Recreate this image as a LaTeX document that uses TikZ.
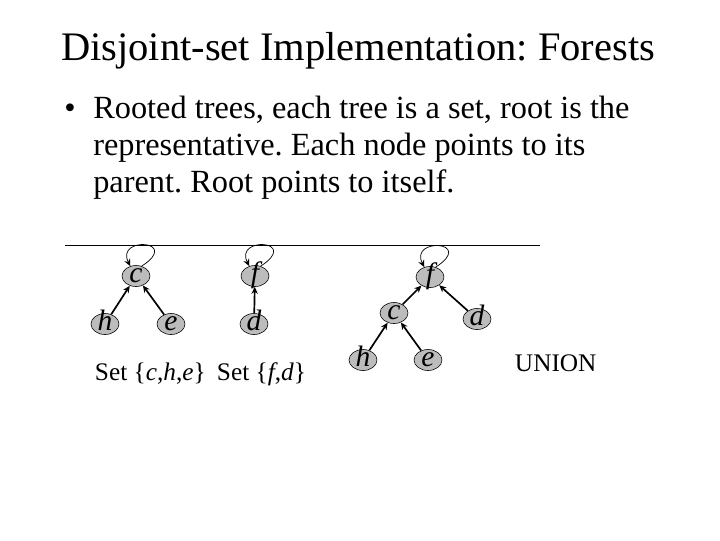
\documentclass[tikz,border=0pt]{standalone}
\usepackage{fontspec}
\setmainfont{Liberation Serif}
\usetikzlibrary{arrows.meta,shapes.geometric}
\definecolor{NodeGray}{HTML}{BCBCBC}

\begin{document}
\frenchspacing
\begin{tikzpicture}[x=0.025cm,y=-0.025cm,
  vertex/.style={ellipse,draw,thin,fill=NodeGray,minimum width=0.7cm,
    minimum height=0.525cm,inner sep=0pt,font=\fontsize{21}{21}\selectfont\itshape},
  parent/.style={line width=1.2pt,-{Stealth[length=5pt,width=4.5pt]}},
  selfloop/.style={line width=0.5pt,-{Stealth[length=5pt,width=4.5pt]}},
  every node/.style={font=\fontsize{18}{20}\selectfont}]
  \useasboundingbox (0,0) rectangle (720,540);
  \node[anchor=base,font=\fontsize{28.8}{32}\selectfont] (title) at (358,60)
    {Disjoint-set Implementation: Forests};
  \node[anchor=base,font=\fontsize{23}{26}\selectfont] (bullet) at (70,118) {\textbullet};
  \node[anchor=north west,align=left,inner sep=0pt,
    font=\fontsize{23}{26.2}\selectfont] (intro) at (93,96)
    {Rooted trees, each tree is a set, root is the\\
     representative. Each node points to its\\
     parent. Root points to itself.};
  \draw[line width=0.5pt] (65,245) -- (540,245);
  % before the union
  \foreach \n/\l/\x/\y in {c1/c/136/276,h1/h/105/324,e1/e/171/324,f1/f/255/276,d1/d/254/324}
    \node[vertex] (\n) at (\x,\y) {\vphantom{x}\smash{\l}};
  % after the union
  \foreach \n/\l/\x/\y in {f2/f/430/277,c2/c/394/313,d2/d/477/319,h2/h/363/360,e2/e/428/360}
    \node[vertex] (\n) at (\x,\y) {\vphantom{x}\smash{\l}};
  \foreach \a/\b in {h1/c1,e1/c1,d1/f1,c2/f2,d2/f2,h2/c2,e2/c2}
    \draw[parent] (\a) -- (\b);
  \foreach \r in {c1,f1,f2}
    \draw[selfloop] (\r.60) .. controls +(40,-26) and +(-15,-30) .. (\r.120);
  \node[anchor=base west] (set1) at (90,380) {Set \{\textit{c},\textit{h},\textit{e}\}};
  \node[anchor=base west] (set2) at (212,380) {Set \{\textit{f},\textit{d}\}};
  \node[anchor=base west] (union) at (510,371) {UNION};
\end{tikzpicture}
\end{document}
